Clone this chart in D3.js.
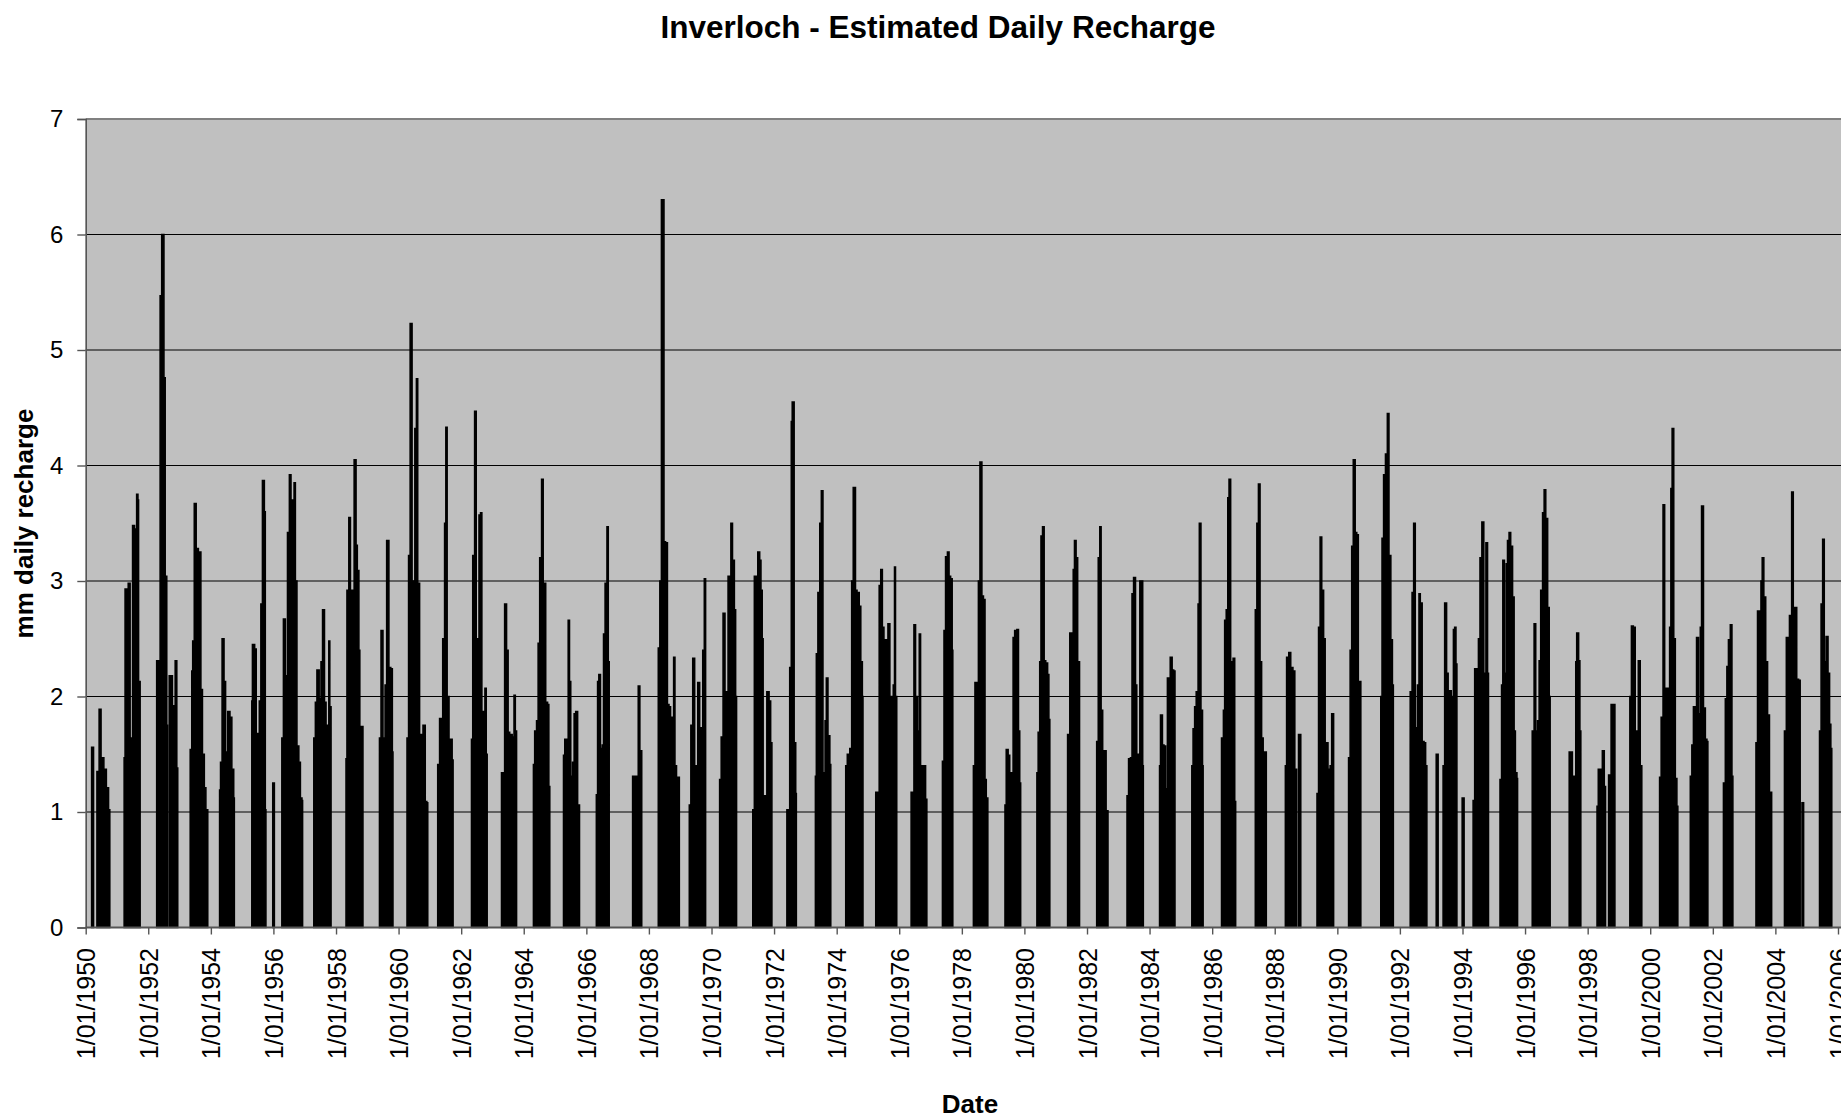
<!DOCTYPE html>
<html><head><meta charset="utf-8">
<script src="https://cdn.jsdelivr.net/npm/d3@7"></script>
<style>html,body{margin:0;padding:0;background:#fff;overflow:hidden;} svg{display:block;font-family:"Liberation Sans",Arial,sans-serif;}</style>
</head><body><svg id="chart" width="1841" height="1119"></svg>
<script>
const titleText = "Inverloch - Estimated Daily Recharge";
const xAxisTitle = "Date";
const yAxisTitle = "mm daily recharge";
const yTicks = [0, 1, 2, 3, 4, 5, 6, 7];
const xTickYears = [1950,1952,1954,1956,1958,1960,1962,1964,1966,1968,1970,1972,1974,1976,1978,1980,1982,1984,1986,1988,1990,1992,1994,1996,1998,2000,2002,2004,2006];

// Each recharge season: [decimal year, mm/day] points
const recharge1950s = [
  [[1950.19,1.56],[1950.25,1.56]],
  [[1950.36,1.35],[1950.43,1.89],[1950.49,1.47],[1950.58,1.37],[1950.66,1.21],[1950.73,1.02],[1950.77,1.02]],
  [[1951.23,1.47],[1951.26,2.93],[1951.31,2.85],[1951.36,2.98],[1951.42,1.64],[1951.5,3.48],[1951.56,3.45],[1951.63,3.75],[1951.67,3.7],[1951.69,2.13],[1951.74,2.13]],
  [[1952.27,2.31],[1952.33,2.31],[1952.38,5.47],[1952.43,6.0],[1952.5,4.76],[1952.54,3.04],[1952.59,1.75],[1952.62,1.75]],
  [[1952.67,2.18],[1952.7,2.18],[1952.77,1.92],[1952.86,2.31],[1952.91,1.38],[1952.94,1.38]],
  [[1953.34,1.54],[1953.39,2.22],[1953.42,2.48],[1953.47,3.67],[1953.53,3.28],[1953.6,3.25],[1953.68,2.06],[1953.73,1.5],[1953.79,1.21],[1953.84,1.02],[1953.9,1.02]],
  [[1954.28,1.19],[1954.31,1.43],[1954.36,2.5],[1954.42,2.13],[1954.47,1.52],[1954.54,1.87],[1954.61,1.82],[1954.67,1.37],[1954.73,1.12],[1954.75,1.12]],
  [[1955.31,1.96],[1955.33,2.45],[1955.4,2.41],[1955.45,1.68],[1955.5,1.64],[1955.55,1.96],[1955.6,2.8],[1955.65,3.87],[1955.71,3.6],[1955.74,1.02],[1955.76,1.02]],
  [[1955.98,1.25],[1956.03,1.25]],
  [[1956.27,1.64],[1956.32,2.67],[1956.38,2.18],[1956.45,3.42],[1956.51,3.92],[1956.56,3.7],[1956.61,3.67],[1956.66,3.85],[1956.7,3.0],[1956.75,1.57],[1956.81,1.43],[1956.86,1.12],[1956.91,1.1],[1956.93,1.1]],
  [[1957.29,1.64],[1957.34,1.95],[1957.39,2.23],[1957.46,1.98],[1957.52,2.3],[1957.57,2.75],[1957.63,1.95],[1957.68,1.75],[1957.77,2.48],[1957.8,1.91],[1957.84,1.91]],
  [[1958.32,1.46],[1958.35,2.92],[1958.41,3.55],[1958.46,2.43],[1958.51,2.92],[1958.58,4.05],[1958.64,3.31],[1958.68,3.09],[1958.73,2.4],[1958.76,1.61],[1958.81,1.74],[1958.86,1.74]],
  [[1959.39,1.64],[1959.44,2.57],[1959.5,1.64],[1959.57,2.1],[1959.62,3.35],[1959.69,2.25],[1959.75,2.24],[1959.8,1.52],[1959.82,1.52]]
];
const recharge1960s = [
  [[1960.27,1.64],[1960.32,3.22],[1960.37,5.23],[1960.43,3.0],[1960.49,3.0],[1960.52,4.32],[1960.57,4.75],[1960.61,2.98],[1960.67,1.67],[1960.73,1.15],[1960.78,1.75],[1960.85,1.09],[1960.9,1.08],[1960.93,1.08]],
  [[1961.25,1.41],[1961.31,1.81],[1961.36,1.31],[1961.41,2.5],[1961.47,3.5],[1961.51,4.33],[1961.55,2.0],[1961.61,1.63],[1961.66,1.63],[1961.71,1.45],[1961.74,1.45]],
  [[1962.33,1.63],[1962.37,3.22],[1962.43,4.47],[1962.48,2.5],[1962.52,2.26],[1962.57,3.57],[1962.62,3.59],[1962.66,1.87],[1962.72,1.85],[1962.76,2.07],[1962.8,1.5],[1962.83,1.5]],
  [[1963.29,1.34],[1963.34,1.34],[1963.39,2.8],[1963.45,2.4],[1963.5,1.69],[1963.55,1.67],[1963.63,1.65],[1963.69,2.01],[1963.73,1.7],[1963.77,1.7]],
  [[1964.31,1.41],[1964.35,1.7],[1964.41,1.79],[1964.46,2.46],[1964.51,3.2],[1964.57,3.88],[1964.62,2.98],[1964.67,2.98],[1964.7,1.95],[1964.76,1.93],[1964.8,1.22],[1964.83,1.22]],
  [[1965.27,1.49],[1965.31,1.63],[1965.37,1.52],[1965.42,2.66],[1965.46,2.13],[1965.5,1.31],[1965.56,1.43],[1965.61,1.85],[1965.66,1.87],[1965.72,1.06],[1965.78,1.06]],
  [[1966.32,1.15],[1966.36,2.13],[1966.4,2.19],[1966.45,1.55],[1966.51,1.58],[1966.55,2.54],[1966.6,2.98],[1966.66,3.47],[1966.7,2.3],[1966.73,2.3]],
  [[1967.48,1.31],[1967.53,1.31],[1967.6,1.31],[1967.66,2.09],[1967.71,1.53],[1967.77,1.53]],
  [[1968.3,2.42],[1968.35,3.0],[1968.4,6.3],[1968.48,3.34],[1968.53,3.33],[1968.59,1.93],[1968.64,1.91],[1968.69,1.82],[1968.75,1.7],[1968.79,2.34],[1968.83,1.4],[1968.88,1.3],[1968.93,1.3],[1968.97,1.3]],
  [[1969.29,1.06],[1969.34,1.75],[1969.4,2.33],[1969.46,1.4],[1969.51,1.37],[1969.56,2.12],[1969.62,1.7],[1969.67,1.73],[1969.72,2.4],[1969.77,3.02],[1969.81,3.02]]
];
const recharge1970s = [
  [[1970.26,1.28],[1970.31,1.65],[1970.37,2.72],[1970.43,1.55],[1970.48,2.04],[1970.53,3.04],[1970.58,3.04],[1970.62,3.5],[1970.67,3.18],[1970.73,2.75],[1970.77,2.0],[1970.8,2.0]],
  [[1971.32,1.02],[1971.37,3.04],[1971.43,3.0],[1971.48,3.25],[1971.54,3.18],[1971.58,2.92],[1971.62,2.5],[1971.65,1.14],[1971.71,1.14],[1971.77,2.04],[1971.84,1.96],[1971.89,1.6],[1971.93,1.6]],
  [[1972.41,1.02],[1972.46,1.02],[1972.5,2.25],[1972.55,4.38],[1972.58,4.55],[1972.64,1.6],[1972.69,1.16],[1972.71,1.16]],
  [[1973.32,1.31],[1973.35,2.37],[1973.4,2.9],[1973.46,3.5],[1973.51,3.78],[1973.56,1.34],[1973.63,1.79],[1973.67,2.16],[1973.72,1.66],[1973.78,1.41],[1973.81,1.41]],
  [[1974.29,1.4],[1974.34,1.5],[1974.42,1.55],[1974.48,3.0],[1974.53,3.81],[1974.6,2.92],[1974.65,2.9],[1974.72,2.78],[1974.77,2.3],[1974.82,2.0],[1974.84,2.0]],
  [[1975.25,1.17],[1975.3,1.17],[1975.36,2.96],[1975.41,3.1],[1975.46,2.6],[1975.51,2.49],[1975.56,2.49],[1975.64,2.63],[1975.7,2.0],[1975.76,1.6],[1975.81,2.1],[1975.85,3.12],[1975.88,2.0],[1975.92,2.0]],
  [[1976.38,1.17],[1976.44,1.17],[1976.47,2.62],[1976.52,2.0],[1976.58,1.7],[1976.64,2.54],[1976.68,1.4],[1976.74,1.11],[1976.79,1.4],[1976.84,1.11],[1976.88,1.11]],
  [[1977.38,1.44],[1977.43,2.57],[1977.48,3.21],[1977.54,3.25],[1977.59,3.04],[1977.64,3.02],[1977.69,2.4],[1977.71,2.4]],
  [[1978.37,1.4],[1978.42,2.12],[1978.48,1.8],[1978.53,3.0],[1978.58,4.03],[1978.64,2.87],[1978.69,2.84],[1978.74,1.28],[1978.78,1.12],[1978.83,1.12]],
  [[1979.38,1.06],[1979.42,1.54],[1979.48,1.49],[1979.53,1.34],[1979.58,1.34],[1979.64,2.51],[1979.69,2.57],[1979.76,2.58],[1979.81,1.7],[1979.85,1.25],[1979.88,1.25]]
];
const recharge1980s = [
  [[1980.4,1.34],[1980.44,1.69],[1980.49,2.3],[1980.53,3.39],[1980.58,3.47],[1980.63,2.31],[1980.68,2.29],[1980.74,2.19],[1980.78,1.8],[1980.81,1.8]],
  [[1981.38,1.67],[1981.45,2.55],[1981.52,2.51],[1981.56,3.1],[1981.6,3.35],[1981.65,3.2],[1981.7,2.3],[1981.76,2.3]],
  [[1982.31,1.61],[1982.36,3.2],[1982.41,3.47],[1982.45,1.88],[1982.5,1.53],[1982.55,1.53],[1982.61,1.01],[1982.65,1.01],[1982.67,1.01]],
  [[1983.28,1.14],[1983.33,1.46],[1983.39,1.47],[1983.44,2.89],[1983.49,3.03],[1983.55,2.1],[1983.59,1.08],[1983.64,1.5],[1983.69,3.0],[1983.74,3.0],[1983.78,1.4],[1983.8,1.4]],
  [[1984.32,1.4],[1984.35,1.84],[1984.41,1.58],[1984.46,1.57],[1984.51,1.2],[1984.57,2.16],[1984.62,2.14],[1984.66,2.34],[1984.72,2.23],[1984.77,2.22],[1984.81,2.22]],
  [[1985.35,1.4],[1985.39,1.72],[1985.44,1.91],[1985.49,2.04],[1985.55,2.8],[1985.59,3.5],[1985.64,1.88],[1985.69,1.4],[1985.71,1.4]],
  [[1986.3,1.64],[1986.36,1.88],[1986.4,2.66],[1986.45,2.75],[1986.5,3.72],[1986.54,3.88],[1986.59,2.3],[1986.67,2.33],[1986.72,1.09],[1986.75,1.09]],
  [[1987.38,2.75],[1987.43,3.5],[1987.48,3.84],[1987.53,2.3],[1987.58,1.64],[1987.63,1.52],[1987.68,1.52],[1987.73,1.52]],
  [[1988.34,1.4],[1988.38,2.34],[1988.45,2.38],[1988.51,2.25],[1988.58,2.22],[1988.64,1.37],[1988.7,1.37]],
  [[1988.76,1.67],[1988.83,1.67]],
  [[1989.35,1.16],[1989.4,2.6],[1989.45,3.38],[1989.5,2.92],[1989.56,2.5],[1989.61,1.17],[1989.66,1.6],[1989.7,1.37],[1989.77,1.4],[1989.82,1.85],[1989.88,1.85]]
];
const recharge1990s = [
  [[1990.36,1.47],[1990.41,2.4],[1990.46,3.3],[1990.51,4.05],[1990.57,3.42],[1990.62,3.4],[1990.67,2.13],[1990.75,2.13]],
  [[1991.39,2.0],[1991.43,3.37],[1991.48,3.92],[1991.54,4.1],[1991.6,4.45],[1991.65,3.22],[1991.71,2.49],[1991.76,2.1],[1991.79,2.1]],
  [[1992.33,2.04],[1992.39,2.9],[1992.44,3.5],[1992.49,1.73],[1992.56,2.1],[1992.61,2.89],[1992.65,2.81],[1992.71,1.61],[1992.77,1.6],[1992.82,1.4],[1992.86,1.4]],
  [[1993.16,1.5],[1993.22,1.5]],
  [[1993.38,1.4],[1993.43,2.81],[1993.49,2.2],[1993.54,2.05],[1993.59,2.05],[1993.64,2.0],[1993.71,2.58],[1993.75,2.6],[1993.79,2.28],[1993.82,2.28]],
  [[1993.99,1.12],[1994.05,1.12]],
  [[1994.34,1.1],[1994.39,2.24],[1994.46,1.05],[1994.51,2.5],[1994.56,3.2],[1994.62,3.51],[1994.68,2.2],[1994.75,3.33],[1994.8,2.2],[1994.83,2.2]],
  [[1995.2,1.28],[1995.25,2.1],[1995.29,3.18],[1995.34,2.2],[1995.4,3.15],[1995.44,3.35],[1995.49,3.42],[1995.54,3.3],[1995.6,2.86],[1995.65,1.7],[1995.69,1.34],[1995.74,1.29],[1995.76,1.29]],
  [[1996.23,1.7],[1996.29,2.63],[1996.34,1.7],[1996.4,1.79],[1996.45,2.31],[1996.5,2.92],[1996.56,3.59],[1996.61,3.79],[1996.66,3.54],[1996.72,2.77],[1996.77,2.0],[1996.8,2.0]],
  [[1997.41,1.52],[1997.46,1.52],[1997.51,1.31],[1997.57,1.31],[1997.62,2.3],[1997.65,2.55],[1997.71,2.31],[1997.75,1.7],[1997.78,1.7]],
  [[1998.3,1.05],[1998.34,1.37],[1998.41,1.37],[1998.47,1.53],[1998.53,1.22],[1998.57,1.22]],
  [[1998.67,1.32],[1998.71,1.32],[1998.75,1.93],[1998.81,1.93],[1998.87,1.93]],
  [[1999.35,2.0],[1999.4,2.61],[1999.46,2.6],[1999.52,1.7],[1999.57,1.67],[1999.62,2.31],[1999.68,1.4],[1999.73,1.4]]
];
const recharge2000s = [
  [[2000.3,1.3],[2000.35,1.82],[2000.41,3.66],[2000.46,1.7],[2000.51,2.07],[2000.56,2.07],[2000.62,2.6],[2000.66,3.8],[2000.7,4.32],[2000.75,2.5],[2000.8,1.29],[2000.85,1.05],[2000.88,1.05]],
  [[2001.28,1.31],[2001.33,1.58],[2001.38,1.91],[2001.44,1.91],[2001.48,2.51],[2001.54,1.85],[2001.6,2.6],[2001.64,3.65],[2001.7,1.9],[2001.76,1.63],[2001.81,1.61],[2001.84,1.61]],
  [[2002.34,1.25],[2002.4,1.98],[2002.45,2.26],[2002.5,2.49],[2002.56,2.62],[2002.61,1.31],[2002.64,1.31]],
  [[2003.38,1.6],[2003.43,2.74],[2003.48,2.74],[2003.54,3.0],[2003.58,3.2],[2003.63,2.86],[2003.69,2.3],[2003.75,1.84],[2003.81,1.17],[2003.86,1.17],[2003.88,1.17]],
  [[2004.29,1.7],[2004.35,2.51],[2004.4,2.43],[2004.45,2.7],[2004.52,3.77],[2004.57,2.77],[2004.62,2.77],[2004.68,2.15],[2004.74,2.14],[2004.79,2.14]],
  [[2004.85,1.08],[2004.9,1.08]],
  [[2005.41,1.7],[2005.46,2.8],[2005.51,3.36],[2005.56,2.3],[2005.62,2.52],[2005.68,2.2],[2005.73,1.76],[2005.77,1.55],[2005.8,1.55]]
];

const seasons = [].concat(recharge1950s, recharge1960s, recharge1970s, recharge1980s, recharge1990s, recharge2000s);

function toDate(yf) {
  const yr = Math.floor(yf);
  const a = new Date(yr, 0, 1), b = new Date(yr + 1, 0, 1);
  return new Date(+a + (yf - yr) * (b - a));
}

const svg = d3.select("#chart");
const plotLeft = 85.7, plotTop = 119, plotBottom = 927.5;
const xScale = d3.scaleTime()
  .domain([new Date(1950, 0, 1), new Date(2006, 0, 1)])
  .range([plotLeft, 1838]);
const plotRight = xScale(new Date(2006, 6, 1));
const yScale = d3.scaleLinear().domain([0, 7]).range([plotBottom, plotTop]);

// plot area
svg.append("rect").attr("x", plotLeft).attr("y", plotTop)
  .attr("width", plotRight - plotLeft).attr("height", plotBottom - plotTop)
  .attr("fill", "#c0c0c0");

// gridlines
svg.append("g").selectAll("line").data(yTicks.filter(d => d > 0 && d < 7)).join("line")
  .attr("x1", plotLeft).attr("x2", plotRight)
  .attr("y1", d => yScale(d)).attr("y2", d => yScale(d))
  .attr("stroke", "#000").attr("stroke-width", 1);

// data
const area = d3.area()
  .x(d => xScale(toDate(d[0])))
  .y0(yScale(0))
  .y1(d => yScale(d[1]))
  .curve(d3.curveStepAfter);
svg.append("g").selectAll("path").data(seasons).join("path")
  .attr("d", area)
  .attr("fill", "#000").attr("stroke", "#000").attr("stroke-width", 1.6)
  .attr("stroke-linejoin", "miter");

// top border
svg.append("line").attr("x1", plotLeft).attr("x2", plotRight).attr("y1", plotTop).attr("y2", plotTop)
  .attr("stroke", "#808080").attr("stroke-width", 2);

// y axis
const yAxisG = svg.append("g").attr("transform", `translate(${plotLeft},0)`)
  .call(d3.axisLeft(yScale).tickValues(yTicks).tickSize(8.4).tickPadding(14).tickFormat(d3.format("d")));
yAxisG.select(".domain").attr("stroke", "#555").attr("stroke-width", 1.6);
yAxisG.selectAll(".tick line").attr("stroke", "#555").attr("stroke-width", 1.4);
yAxisG.selectAll(".tick text").attr("font-size", 24).attr("fill", "#000")
  .attr("font-family", "'Liberation Sans', Arial, sans-serif");

// x axis
const xAxisG = svg.append("g").attr("transform", `translate(0,${plotBottom})`)
  .call(d3.axisBottom(xScale).tickValues(xTickYears.map(yr => new Date(yr, 0, 1)))
    .tickSize(7).tickFormat(d3.timeFormat("%-d/%m/%Y")));
xAxisG.select(".domain").remove();
xAxisG.append("line").attr("x1", plotLeft).attr("x2", plotRight).attr("y1", 0).attr("y2", 0)
  .attr("stroke", "#555").attr("stroke-width", 1.8);
xAxisG.selectAll(".tick line").attr("stroke", "#555").attr("stroke-width", 1.4);
xAxisG.selectAll(".tick text")
  .attr("font-size", 25).attr("fill", "#000")
  .attr("font-family", "'Liberation Sans', Arial, sans-serif")
  .attr("transform", "rotate(-90)")
  .attr("text-anchor", "end")
  .attr("x", -20.5).attr("y", 0).attr("dy", "0.36em");

// titles
svg.append("text").attr("x", 938).attr("y", 38).attr("text-anchor", "middle")
  .attr("font-size", 31.5).attr("font-weight", "bold").text(titleText);
svg.append("text").attr("x", 970).attr("y", 1113).attr("text-anchor", "middle")
  .attr("font-size", 26).attr("font-weight", "bold").text(xAxisTitle);
svg.append("text").attr("transform", "translate(33,523.5) rotate(-90)").attr("text-anchor", "middle")
  .attr("font-size", 26).attr("font-weight", "bold").text(yAxisTitle);
</script>
</body></html>
